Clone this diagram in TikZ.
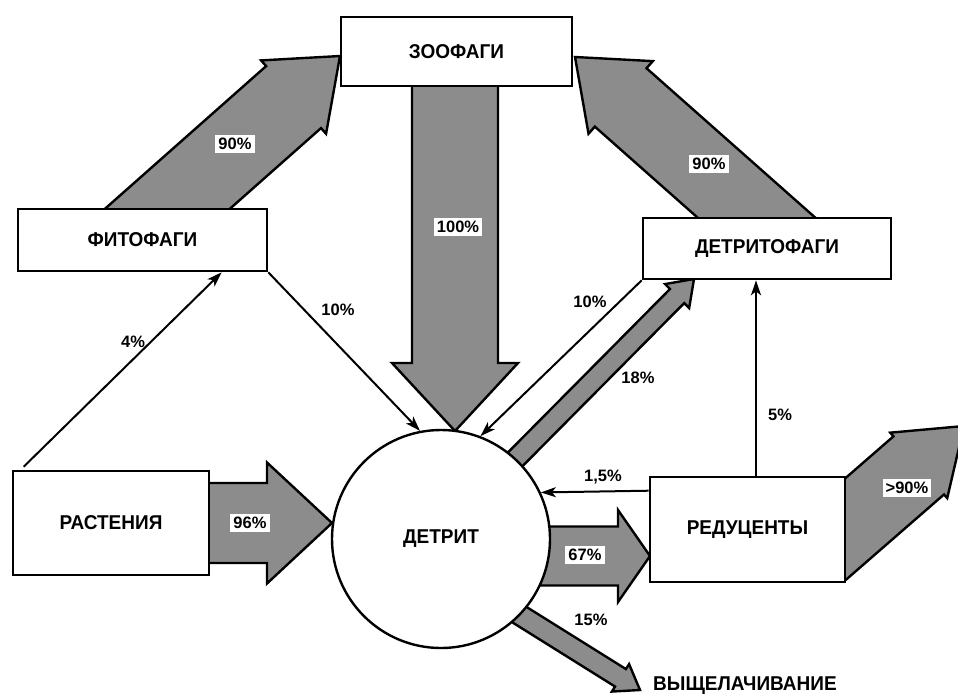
\documentclass[tikz,border=0pt]{standalone}
\usepackage{fontspec}
\setmainfont{Liberation Sans}
\newfontfamily\narrowfont[FakeStretch=0.95]{Liberation Sans}
\usetikzlibrary{calc,arrows.meta}
\definecolor{halftone}{RGB}{140,140,140}
% #1 tail, #2 tip, #3 half shaft width, #4 half head width, #5 head length
\newcommand\fatarr[5]{%
  \filldraw[fat] ($(#1)!#3!90:(#2)$)
    -- ($(#2)!#5!(#1)!#3!-90:(#1)$)
    -- ($(#2)!#5!(#1)!#4!-90:(#1)$)
    -- (#2)
    -- ($(#2)!#5!(#1)!#4!90:(#1)$)
    -- ($(#2)!#5!(#1)!#3!90:(#1)$)
    -- ($(#1)!#3!-90:(#2)$) -- cycle;}
\begin{document}
\begin{tikzpicture}[x=1pt,y=-1pt,
  boxfont/.style={font=\narrowfont\fontsize{20}{22}\selectfont\bfseries},
  box/.style={draw,line width=2.6pt,fill=white,inner sep=0pt,boxfont},
  fat/.style={draw,line width=2.4pt,fill=halftone,line join=miter},
  thinarr/.style={line width=2pt,-{Stealth[length=15pt,width=10pt,inset=4pt]}},
  lbl/.style={font=\fontsize{16.5}{18}\selectfont\bfseries,inner sep=1pt},
  wlbl/.style={lbl,fill=white,inner sep=3pt}]
\useasboundingbox (0,0) rectangle (958,697);
\clip (0,0) rectangle (958,697);

% fat arrows (drawn first, under the boxes)
\coordinate (fzT) at (122.8,248.3); \coordinate (fzH) at (340,56);
\coordinate (dzT) at (792.2,249.3); \coordinate (dzH) at (575,57);
\coordinate (zdT) at (455,60);      \coordinate (zdH) at (455,431);
\coordinate (pdT) at (150,523);     \coordinate (pdH) at (332,523);
\coordinate (drT) at (500,556);     \coordinate (drH) at (650,556);
\coordinate (ddT) at (482.8,492);   \coordinate (ddH) at (694,279);
\coordinate (dlT) at (470.4,584);   \coordinate (dlH) at (640,690);
\coordinate (roT) at (813.9,556.6); \coordinate (roH) at (964,426);

\begin{scope}
  \clip (0,0) rectangle (958,240);
  \fatarr{fzT}{fzH}{41.4pt}{49pt}{62pt}
\end{scope}
\begin{scope}
  \clip (0,0) rectangle (958,250);
  \fatarr{dzT}{dzH}{39pt}{48.5pt}{61pt}
\end{scope}
\fatarr{zdT}{zdH}{43pt}{63pt}{68pt}
\fatarr{pdT}{pdH}{40pt}{60.5pt}{65pt}
\fatarr{drT}{drH}{29.5pt}{46pt}{32pt}
\fatarr{ddT}{ddH}{10pt}{17pt}{24pt}
\fatarr{dlT}{dlH}{10.3pt}{16.2pt}{23pt}
\begin{scope}
  \clip (0,0) rectangle (958,580);
  \fatarr{roT}{roH}{38.5pt}{43.4pt}{60pt}
\end{scope}

% boxes
\node[box,minimum width=231pt,minimum height=69pt] (zoo) at (456.5,51.5) {ЗООФАГИ};
\node[box,minimum width=249pt,minimum height=62pt] (phyto) at (142.5,240) {ФИТОФАГИ};
\node[box,minimum width=248pt,minimum height=61pt] (detf) at (767,248.5) {ДЕТРИТОФАГИ};
\node[box,minimum width=196pt,minimum height=104pt] (plant) at (111,523) {РАСТЕНИЯ};
\node[box,minimum width=195pt,minimum height=105pt] (red) at (747.5,529.5) {РЕДУЦЕНТЫ};
\node[box,circle,line width=2.4pt,minimum size=218pt] (detrit) at (441,539) {ДЕТРИТ};
\node[boxfont,anchor=west,inner sep=0pt] (leach) at (653,686) {ВЫЩЕЛАЧИВАНИЕ};

% thin arrows
\draw[thinarr] ([xshift=12pt,yshift=3pt]plant.north west) -- ([xshift=205pt]phyto.south west);
\draw[thinarr] (phyto.south east) -- (detrit.101);
\draw[thinarr] (detf.south west) -- (detrit.69);
\draw[thinarr] ([yshift=-15pt]red.north west) -- (detrit.25.6);
\coordinate (c5) at (756,0);
\draw[thinarr] (red.north -| c5) -- (detf.south -| c5);

% labels
\node[wlbl] at (235,144) {90\%};
\node[wlbl] at (458,227) {100\%};
\node[wlbl] at (709,164) {90\%};
\node[wlbl] at (250,523) {96\%};
\node[wlbl] at (585,555) {67\%};
\node[wlbl] at (907,488) {>90\%};
\node[lbl] at (133,342) {4\%};
\node[lbl] at (338,310) {10\%};
\node[lbl] at (590,302) {10\%};
\node[lbl] at (638,378) {18\%};
\node[lbl] at (780,415) {5\%};
\node[lbl] at (603,477) {1,5\%};
\node[lbl] at (591,620) {15\%};
\end{tikzpicture}
\end{document}
